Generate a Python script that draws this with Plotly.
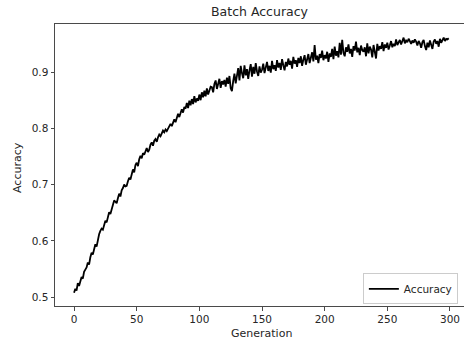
import plotly.graph_objects as go

title_text = "Batch Accuracy"
x_label = "Generation"
y_label = "Accuracy"
series_name = "Accuracy"

x_ticks = [0, 50, 100, 150, 200, 250, 300]
y_ticks = [0.5, 0.6, 0.7, 0.8, 0.9]
y_tick_labels = ["0.5", "0.6", "0.7", "0.8", "0.9"]

accuracy = [
    0.508, 0.515, 0.512, 0.525, 0.520, 0.531, 0.536, 0.533, 0.545, 0.549,
    0.553, 0.562, 0.558, 0.571, 0.579, 0.576, 0.588, 0.594, 0.590, 0.604,
    0.612, 0.618, 0.622, 0.620, 0.629, 0.636, 0.633, 0.645, 0.651, 0.648,
    0.659, 0.664, 0.672, 0.669, 0.667, 0.676, 0.684, 0.679, 0.690, 0.694,
    0.700, 0.697, 0.698, 0.706, 0.712, 0.709, 0.719, 0.727, 0.722, 0.735,
    0.739, 0.733, 0.745, 0.751, 0.747, 0.756, 0.753, 0.760, 0.765, 0.758,
    0.762, 0.771, 0.775, 0.769, 0.778, 0.781, 0.776, 0.784, 0.789, 0.786,
    0.791, 0.796, 0.793, 0.798, 0.795, 0.800, 0.803, 0.808, 0.804, 0.812,
    0.816, 0.811, 0.821, 0.826, 0.820, 0.830, 0.834, 0.828, 0.838, 0.835,
    0.845, 0.836, 0.849, 0.841, 0.852, 0.843, 0.857, 0.846, 0.853, 0.849,
    0.860, 0.850, 0.864, 0.855, 0.867, 0.857, 0.871, 0.860, 0.866, 0.874,
    0.873, 0.864, 0.879, 0.885, 0.870, 0.881, 0.888, 0.872, 0.884, 0.878,
    0.886, 0.874, 0.890, 0.879, 0.893, 0.871, 0.866, 0.884, 0.897, 0.880,
    0.893, 0.907, 0.885, 0.911, 0.898, 0.889, 0.912, 0.894, 0.905, 0.888,
    0.903, 0.914, 0.892, 0.909, 0.897, 0.916, 0.901, 0.893, 0.910, 0.899,
    0.904, 0.915, 0.898, 0.908, 0.918, 0.902, 0.911, 0.899, 0.920, 0.905,
    0.912, 0.902, 0.921, 0.908, 0.916, 0.904, 0.923, 0.912, 0.903, 0.918,
    0.910, 0.924, 0.913, 0.920, 0.906, 0.927, 0.915, 0.921, 0.909, 0.925,
    0.916, 0.928, 0.911, 0.922, 0.930, 0.913, 0.925, 0.932, 0.916, 0.928,
    0.935, 0.919, 0.948, 0.922, 0.929, 0.916, 0.932, 0.925, 0.938, 0.921,
    0.930, 0.924, 0.936, 0.918, 0.933, 0.927, 0.941, 0.923, 0.945, 0.929,
    0.937, 0.926, 0.952, 0.931, 0.957, 0.934, 0.928, 0.944, 0.936, 0.949,
    0.933, 0.941, 0.927, 0.946, 0.938, 0.954, 0.935, 0.943, 0.930, 0.947,
    0.939, 0.936, 0.944, 0.928, 0.951, 0.933, 0.945, 0.940, 0.926, 0.948,
    0.935, 0.924, 0.950, 0.938, 0.946, 0.941, 0.953, 0.937, 0.949, 0.943,
    0.952, 0.940, 0.947, 0.955, 0.944, 0.950, 0.946, 0.958, 0.948, 0.953,
    0.957, 0.949, 0.954, 0.961, 0.951, 0.956, 0.953, 0.959, 0.955, 0.950,
    0.956, 0.952, 0.958, 0.954, 0.947, 0.955, 0.951, 0.943, 0.953, 0.957,
    0.946, 0.939, 0.952, 0.944, 0.956, 0.949, 0.941, 0.954, 0.958, 0.950,
    0.955, 0.945, 0.959, 0.952, 0.957, 0.961, 0.955, 0.959, 0.958, 0.960,
]
generations = list(range(len(accuracy)))

FONT = "DejaVu Sans"
TXT = "#262626"
AX = "#4a4a4a"

fig = go.Figure()
fig.add_trace(go.Scatter(
    x=generations, y=accuracy, mode="lines", name=series_name,
    line=dict(color="black", width=1.8),
))

fig.update_layout(
    width=464, height=341,
    margin=dict(l=55, r=0, t=24, b=35),
    paper_bgcolor="white", plot_bgcolor="white",
    font=dict(family=FONT, color=TXT, size=10.5),
    title=dict(text=title_text, x=0.5, xref="paper", y=1 - 12 / 341,
               yref="container", yanchor="middle", xanchor="center",
               font=dict(size=12.5, color=TXT, family=FONT)),
    showlegend=True,
    legend=dict(x=0.985, y=0.006, xanchor="right", yanchor="bottom",
                bgcolor="white", bordercolor="#cccccc", borderwidth=1,
                font=dict(size=10.5, color=TXT, family=FONT),
                itemwidth=30, tracegroupgap=0),
    xaxis=dict(range=[-15.2, 311.2], tickvals=x_ticks,
               ticktext=[str(v) for v in x_ticks],
               showgrid=False, zeroline=False, showline=True, mirror=True,
               linecolor=AX, linewidth=1, ticks="outside", ticklen=3.5,
               tickcolor=AX, tickwidth=1),
    yaxis=dict(range=[0.4845, 0.9853], tickvals=y_ticks, ticktext=y_tick_labels,
               showgrid=False, zeroline=False, showline=True, mirror=False,
               linecolor=AX, linewidth=1, ticks="outside", ticklen=3.5,
               tickcolor=AX, tickwidth=1),
    annotations=[
        dict(text=x_label, xref="paper", yref="paper", x=(261 - 55) / 409,
             y=(306 - 333) / 282, xanchor="center", yanchor="middle",
             showarrow=False, font=dict(size=11, color=TXT, family=FONT)),
        dict(text=y_label, xref="paper", yref="paper", x=(17 - 55) / 409,
             y=(306 - 168) / 282, xanchor="center", yanchor="middle",
             textangle=-90, showarrow=False,
             font=dict(size=11, color=TXT, family=FONT)),
    ],
)

fig.write_html("out.html")
